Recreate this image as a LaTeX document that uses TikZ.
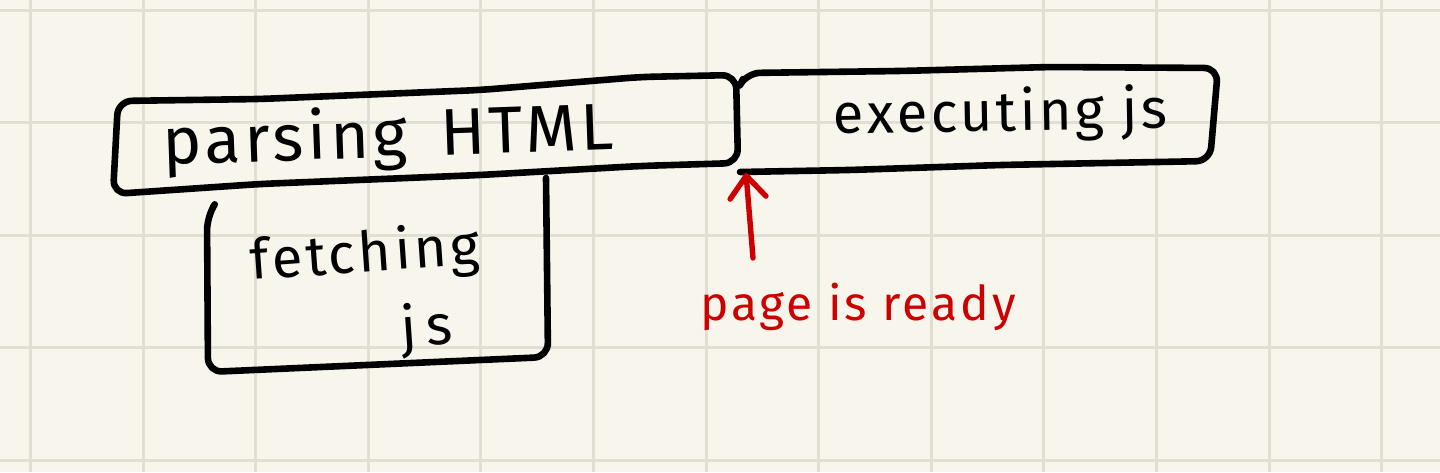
\documentclass[tikz,border=0pt]{standalone}
\usepackage{fontspec}
\usepackage{xcolor}
\usepackage{tikz}
\usetikzlibrary{positioning,arrows.meta}
\newfontfamily\handfont[LetterSpace=6]{Fira Sans}
\definecolor{paper}{HTML}{F8F6EC}
\definecolor{gridgrey}{HTML}{E1DFD4}
\definecolor{inkred}{HTML}{CC0000}

\begin{document}
\begin{tikzpicture}[x=0.5pt, y=-0.5pt,
   inkline/.style={draw=black, line width=3.3pt, line cap=round, line join=round,
                   rounded corners=7pt},
   redline/.style={draw=inkred, line width=2.7pt, line cap=round, line join=round},
   handtext/.style={font=\handfont\fontsize{28}{39}\selectfont, inner sep=0pt},
   gridrule/.style={draw=gridgrey, line width=1.5pt},
   >={Straight Barb[length=11pt,width=18pt,round]}]
  \fill[paper] (0,0) rectangle (1440,472);
  \useasboundingbox (0,0) rectangle (1440,472);
  \foreach \i in {0,...,12}
    \draw[gridrule] ({30.5+112.6*\i},0) -- ({30.5+112.6*\i},472);
  \foreach \j in {0,...,4}
    \draw[gridrule] (0,{10+112.6*\j}) -- (1440,{10+112.6*\j});

  \node[handtext, anchor=base, rotate=2, font=\handfont\fontsize{33}{40}\selectfont]
    (parsing) at (389,157) {parsing\enspace HTML};
  \node[handtext, anchor=base, rotate=1] (executing) at (1001,131) {executing js};
  \node[handtext, anchor=north, align=right, rotate=4] (fetching) at (363,228)
    {fetching\\j\,s\hspace*{16pt}};
  \node[handtext, anchor=base, text=inkred, font=\handfont\fontsize{24}{30}\selectfont]
    (ready) at (858,320) {page is ready};

  \draw[inkline] (118,101) -- (260,99) -- (480,90) -- (640,77) -- (736,75)
     -- (738,163) -- (640,166) -- (480,175) -- (260,184) -- (113,194) -- cycle;
  \draw[inkline] (743,79) -- (746,73) -- (900,71) -- (1050,67) -- (1218,68)
     -- (1210,161) -- (1000,165) -- (850,170) -- (740,172);
  \draw[inkline] (213,207) -- (207,216) -- (208,372) -- (548,357) -- (546,178);

  \coordinate (tail) at (753,258);
  \coordinate (junction) at (746,173);
  \draw[redline, ->] (tail) -- (junction);
\end{tikzpicture}
\end{document}
